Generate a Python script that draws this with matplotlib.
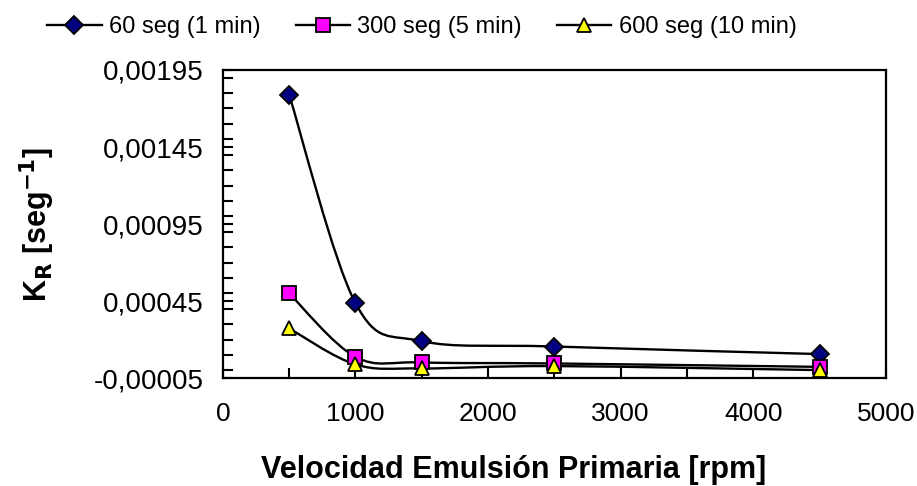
import matplotlib
matplotlib.use("Agg")
import matplotlib.pyplot as plt
import numpy as np
from matplotlib.path import Path
from matplotlib.patches import PathPatch
from matplotlib.lines import Line2D
from matplotlib.ticker import MultipleLocator, FuncFormatter

plt.rcParams['font.family'] = ['Liberation Sans', 'DejaVu Sans']

velocidad = [500, 1000, 1500, 2500, 4500]
kr_60 = [0.00179, 0.000437, 0.00019, 0.000155, 0.000106]
kr_300 = [0.000500, 0.000088, 0.000052, 0.000045, 0.000023]
kr_600 = [0.000273, 0.000039, 0.000013, 0.000028, 0.000002]

labels = ["60 seg (1 min)", "300 seg (5 min)", "600 seg (10 min)"]
markers = ["D", "s", "^"]
colors = ["#000080", "#FF00FF", "#FFFF00"]
sizes = [9, 10, 10]


def smooth_path(xs, ys):
    # bezier path like excel "smoothed line"
    pts = np.column_stack([xs, ys]).astype(float)
    n = len(pts)
    verts = [pts[0]]
    codes = [Path.MOVETO]
    for i in range(n - 1):
        p0 = pts[i - 1] if i > 0 else pts[i]
        p1 = pts[i]
        p2 = pts[i + 1]
        p3 = pts[i + 2] if i + 2 < n else pts[i + 1]
        c1 = p1 + (p2 - p0) / 6.0
        c2 = p2 - (p3 - p1) / 6.0
        verts += [c1, c2, p2]
        codes += [Path.CURVE4] * 3
    return Path(verts, codes)


fig = plt.figure(figsize=(9.17, 4.86), dpi=100)
ax = fig.add_axes([0.243, 0.222, 0.723, 0.634])

handles = []
for ys, lab, m, c, s in zip([kr_60, kr_300, kr_600], labels, markers, colors, sizes):
    ax.add_patch(PathPatch(smooth_path(velocidad, ys), facecolor="none",
                           edgecolor="black", lw=1.7, zorder=2))
    ax.plot(velocidad, ys, ls="none", marker=m, ms=s, mfc=c, mec="black",
            mew=1.3, zorder=3, clip_on=False)
    handles.append(Line2D([], [], color="black", lw=1.7, marker=m, ms=s,
                          mfc=c, mec="black", mew=1.3, label=lab))

ax.set_xlim(0, 5000)
ax.set_ylim(-0.00005, 0.00195)
ax.xaxis.set_major_locator(MultipleLocator(1000))
ax.xaxis.set_minor_locator(MultipleLocator(500))
ax.set_yticks(np.arange(-0.00005, 0.00196, 0.0005))
ax.yaxis.set_minor_locator(MultipleLocator(0.0001))
ax.yaxis.set_major_formatter(FuncFormatter(lambda v, p: ("%.5f" % v).replace(".", ",")))
ax.tick_params(which="both", direction="in", width=1.5, labelsize=19, length=7)
ax.tick_params(axis="y", pad=14, labelsize=20)
ax.tick_params(axis="x", pad=17)
for sp in ax.spines.values():
    sp.set_linewidth(1.6)

ax.set_xlabel("Velocidad Emulsión Primaria [rpm]", fontsize=22, fontweight="bold")
ax.xaxis.set_label_coords(0.439, -0.25)
ax.set_ylabel("K$_\\mathbf{R}$ [seg$^{\\mathbf{-1}}$]", fontsize=22, fontweight="bold")
ax.yaxis.set_label_coords(-0.25, 0.5)

fig.legend(handles=handles, loc="upper center", bbox_to_anchor=(0.46, 1.01), ncol=3,
           frameon=False, fontsize=17, handlelength=2.3, handletextpad=0.3, columnspacing=1.5)

fig.savefig("out.png", dpi=100)
